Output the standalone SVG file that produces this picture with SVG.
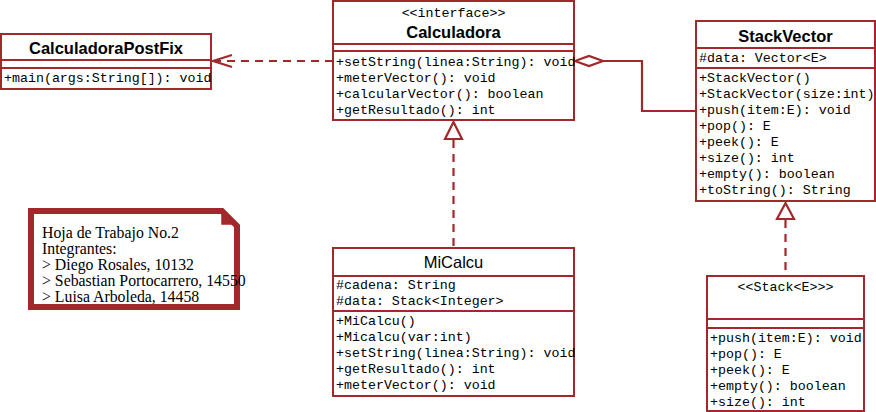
<svg xmlns="http://www.w3.org/2000/svg" width="876" height="412" viewBox="0 0 876 412">
<style>
.box{fill:#fff;stroke:#a3282c;stroke-width:2}
.sep{stroke:#a3282c;stroke-width:2;fill:none}
.conn{stroke:#a3282c;stroke-width:2.2;fill:none}
.dash{stroke-dasharray:8 6}
.mono{font-family:"Liberation Mono","Courier New",monospace;font-size:13.3px;fill:#000}
.name{font-family:"Liberation Sans",Arial,sans-serif;font-size:16.5px;font-weight:bold;fill:#000;text-anchor:middle}
.nameR{font-family:"Liberation Sans",Arial,sans-serif;font-size:16.5px;fill:#000;text-anchor:middle}
.st{text-anchor:middle}
.note{font-family:"Liberation Serif","Times New Roman",serif;font-size:15.8px;fill:#000}
</style>
<g id="connectors">
  <path class="conn dash" d="M333 61 H213"/>
  <path class="conn" d="M232 55 L213 61 L232 67"/>
  <path class="conn" d="M575 61 L589 56 L603 61 L589 66 Z" fill="#fff"/>
  <path class="conn" d="M603 61 H642 V111 H696"/>
  <path class="conn dash" d="M453.5 140 V248"/>
  <path class="conn" d="M453.5 122 L462 139 L445 139 Z" fill="#fff"/>
  <path class="conn dash" d="M785.5 220 V276"/>
  <path class="conn" d="M785.5 203 L794 219 L777 219 Z" fill="#fff"/>
</g>
<g id="CalculadoraPostFix">
  <rect class="box" x="1" y="34" width="210" height="55"/>
  <path class="sep" d="M1 60 H211 M1 68 H211"/>
  <text class="name" x="106" y="54">CalculadoraPostFix</text>
  <text class="mono" x="4" y="82">+main(args:String[]): void</text>
</g>
<g id="Calculadora">
  <rect class="box" x="333" y="1" width="241" height="119"/>
  <path class="sep" d="M333 44 H574 M333 51 H574"/>
  <text class="mono st" x="453.5" y="17">&lt;&lt;interface&gt;&gt;</text>
  <text class="name" x="453.5" y="38">Calculadora</text>
  <text class="mono" x="336" y="66">+setString(linea:String): void</text>
  <text class="mono" x="336" y="82">+meterVector(): void</text>
  <text class="mono" x="336" y="98">+calcularVector(): boolean</text>
  <text class="mono" x="336" y="114">+getResultado(): int</text>
</g>
<g id="StackVector">
  <rect class="box" x="696" y="21" width="179" height="180"/>
  <path class="sep" d="M696 48 H875 M696 68 H875"/>
  <text class="name" x="785.5" y="42">StackVector</text>
  <text class="mono" x="699" y="62">#data: Vector&lt;E&gt;</text>
  <text class="mono" x="699" y="82">+StackVector()</text>
  <text class="mono" x="699" y="98">+StackVector(size:int)</text>
  <text class="mono" x="699" y="114">+push(item:E): void</text>
  <text class="mono" x="699" y="130">+pop(): E</text>
  <text class="mono" x="699" y="146">+peek(): E</text>
  <text class="mono" x="699" y="162">+size(): int</text>
  <text class="mono" x="699" y="178">+empty(): boolean</text>
  <text class="mono" x="699" y="194">+toString(): String</text>
</g>
<g id="MiCalcu">
  <rect class="box" x="333" y="248" width="241" height="148"/>
  <path class="sep" d="M333 276 H574 M333 311 H574"/>
  <text class="nameR" x="453.5" y="268">MiCalcu</text>
  <text class="mono" x="336" y="289">#cadena: String</text>
  <text class="mono" x="336" y="305">#data: Stack&lt;Integer&gt;</text>
  <text class="mono" x="336" y="325">+MiCalcu()</text>
  <text class="mono" x="336" y="341">+Micalcu(var:int)</text>
  <text class="mono" x="336" y="357">+setString(linea:String): void</text>
  <text class="mono" x="336" y="373">+getResultado(): int</text>
  <text class="mono" x="336" y="389">+meterVector(): void</text>
</g>
<g id="StackE">
  <rect class="box" x="707" y="276" width="157" height="135"/>
  <path class="sep" d="M707 319 H864 M707 328 H864"/>
  <text class="mono st" x="785.5" y="291">&lt;&lt;Stack&lt;E&gt;&gt;&gt;</text>
  <text class="mono" x="710" y="342">+push(item:E): void</text>
  <text class="mono" x="710" y="358">+pop(): E</text>
  <text class="mono" x="710" y="374">+peek(): E</text>
  <text class="mono" x="710" y="390">+empty(): boolean</text>
  <text class="mono" x="710" y="406">+size(): int</text>
</g>
<g id="note">
  <path d="M31 211 H222 L237 226 V307 H31 Z" fill="#fff" stroke="#a3282c" stroke-width="6"/>
  <path d="M222 214 V224 H233 Z" fill="#a3282c" stroke="#a3282c" stroke-width="1.5"/>
  <text class="note" x="42" y="238">Hoja de Trabajo No.2</text>
  <text class="note" x="42" y="254">Integrantes:</text>
  <text class="note" x="42" y="270">&gt; Diego Rosales, 10132</text>
  <text class="note" x="42" y="286">&gt; Sebastian Portocarrero, 14550</text>
  <text class="note" x="42" y="302">&gt; Luisa Arboleda, 14458</text>
</g>
</svg>
